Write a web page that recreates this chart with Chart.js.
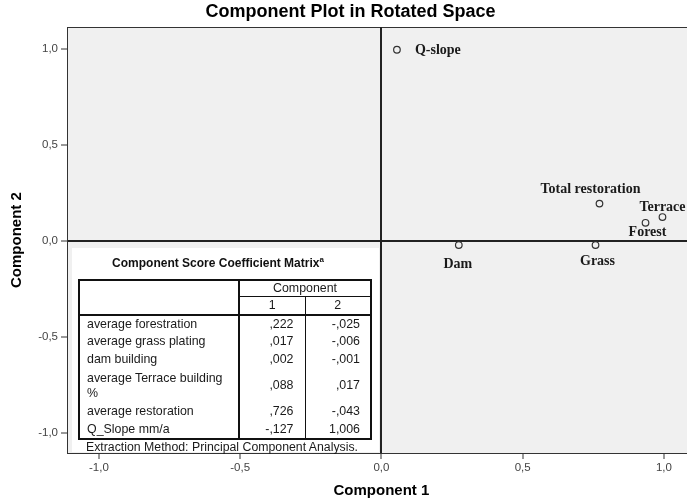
<!DOCTYPE html>
<html>
<head>
<meta charset="utf-8">
<title>Component Plot in Rotated Space</title>
<script src="https://cdn.jsdelivr.net/npm/chart.js@4.4.0/dist/chart.umd.min.js"></script>
<style>
  html, body { margin: 0; padding: 0; overflow: hidden; background: #fff; }
  #wrap { position: relative; width: 701px; height: 504px; }
  #plot { position: absolute; left: 0; top: 0; }

  /* coefficient matrix laid over the lower-left quadrant */
  .inset {
    position: absolute; left: 72px; top: 248px; width: 307px; height: 204px;
    background: #fff; color: #1a1a1a;
    font-family: "Liberation Sans", Arial, sans-serif; font-size: 12.4px;
  }
  .inset-title {
    position: absolute; left: 0; top: 8px; width: 292px; text-align: center;
    font-weight: bold; font-size: 12px; line-height: 14px; color: #111;
  }
  .inset-title sup { font-size: 8px; vertical-align: 5px; line-height: 0; }
  .inset table {
    position: absolute; left: 6px; top: 31px; width: 294px;
    border-collapse: collapse; table-layout: fixed; border: 2px solid #111;
  }
  .inset td { padding: 0; line-height: 15px; white-space: normal; }
  .inset tr.hdr1 { height: 16px; }
  .inset tr.hdr2 { height: 18px; }
  .inset tr.hdr2 td { border-bottom: 2px solid #111; }
  .inset tr.row { height: 18px; }
  .inset tr.row.tall { height: 34px; }
  .inset .lab { padding-left: 7px; padding-right: 14px; }
  .inset .c1 { text-align: right; padding-right: 11px; border-left: 2px solid #111; }
  .inset .c2 { text-align: right; padding-right: 10px; border-left: 1px solid #111; }
  .inset .mid { text-align: center; padding: 0; }
  .inset .note {
    position: absolute; left: 14px; top: 193px; font-size: 12.3px; line-height: 12px; white-space: nowrap;
  }
</style>
</head>
<body>
<div id="wrap">
  <canvas id="plot" width="701" height="504"></canvas>
  <div class="inset">
    <div class="inset-title">Component Score Coefficient Matrix<sup>a</sup></div>
    <table id="scores">
      <colgroup><col style="width:160px"><col style="width:66px"><col style="width:66px"></colgroup>
    </table>
    <div class="note">Extraction Method: Principal Component Analysis.</div>
  </div>
</div>
<script>
// rotated loadings of each variable
const variables = ["Q-slope", "Total restoration", "Terrace", "Forest", "Dam", "Grass"];
const component1 = [0.055, 0.772, 0.995, 0.935, 0.274, 0.758];
const component2 = [0.997, 0.195, 0.125, 0.095, -0.021, -0.021];
const tickValues = [-1, -0.5, 0, 0.5, 1];

// score coefficient matrix
const scoreRows = ["average forestration", "average grass plating", "dam building",
  "average Terrace building %", "average restoration", "Q_Slope mm/a"];
const scoreComp1 = [0.222, 0.017, 0.002, 0.088, 0.726, -0.127];
const scoreComp2 = [-0.025, -0.006, -0.001, 0.017, -0.043, 1.006];

// label placement relative to each point: dx, dy, align
const labelOffsets = [[18, 1, "left"], [-9, -14, "center"], [0, -10, "center"],
  [2, 10, "center"], [-1, 19, "center"], [2, 16, "center"]];

// SPSS style decimals: comma separator, no leading zero
const spssNum = (v) => {
  let s = Math.abs(v).toFixed(3).replace(".", ",");
  if (s.startsWith("0")) s = s.slice(1);
  return (v < 0 ? "-" : "") + s;
};
const axisNum = (v) => (Math.abs(v) < 1e-9 ? 0 : v).toFixed(1).replace(".", ",");

const buildTable = () => {
  const table = document.querySelector("#scores");
  const head = `
    <tr class="hdr1"><td class="lab" rowspan="2" style="border-bottom:2px solid #111"></td>
      <td class="mid" colspan="2" style="border-left:2px solid #111;border-bottom:1px solid #111">Component</td></tr>
    <tr class="hdr2"><td class="mid" style="border-left:2px solid #111">1</td>
      <td class="mid" style="border-left:1px solid #111">2</td></tr>`;
  const body = scoreRows.map((name, i) => `
    <tr class="row${name.length > 24 ? " tall" : ""}"><td class="lab">${name}</td>
      <td class="c1">${spssNum(scoreComp1[i])}</td>
      <td class="c2">${spssNum(scoreComp2[i])}</td></tr>`).join("");
  table.insertAdjacentHTML("beforeend", head + body);
};

// grey plot area and the top frame line
const plotFrame = {
  id: "plotFrame",
  beforeDraw(chart) {
    const { ctx, chartArea: a } = chart;
    ctx.save();
    ctx.fillStyle = "#f0f0f0";
    ctx.fillRect(a.left, a.top, a.right - a.left, a.bottom - a.top);
    ctx.strokeStyle = "#333";
    ctx.lineWidth = 1;
    ctx.beginPath();
    ctx.moveTo(a.left, Math.round(a.top) + 0.5);
    ctx.lineTo(a.right, Math.round(a.top) + 0.5);
    ctx.stroke();
    ctx.restore();
  }
};

// variable names next to the points
const pointLabels = {
  id: "pointLabels",
  afterDatasetsDraw(chart) {
    const { ctx } = chart;
    const meta = chart.getDatasetMeta(0);
    ctx.save();
    ctx.font = "bold 14px 'Liberation Serif', 'Times New Roman', serif";
    ctx.fillStyle = "#1a1a1a";
    ctx.textBaseline = "middle";
    meta.data.forEach((pt, i) => {
      const [dx, dy, align] = labelOffsets[i];
      ctx.textAlign = align;
      ctx.fillText(variables[i], pt.x + dx, pt.y + dy);
    });
    ctx.restore();
  }
};

document.addEventListener("DOMContentLoaded", () => {
  buildTable();

  Chart.defaults.font.family = "'Liberation Sans', Arial, sans-serif";
  const zeroLine = (c) => (c.tick && Math.abs(c.tick.value) < 1e-9 ? "#222" : "rgba(0,0,0,0)");
  const tickFont = { size: 11.5 };

  new Chart(document.querySelector("#plot"), {
    type: "scatter",
    data: {
      datasets: [{
        data: variables.map((_, i) => ({ x: component1[i], y: component2[i] })),
        pointRadius: 3.3,
        pointBorderWidth: 1.2,
        pointBorderColor: "#333",
        pointBackgroundColor: "rgba(0,0,0,0)",
        showLine: false
      }]
    },
    options: {
      responsive: false,
      animation: false,
      devicePixelRatio: 1,
      layout: { padding: 0 },
      plugins: {
        legend: { display: false },
        tooltip: { enabled: false },
        title: {
          display: true,
          text: "Component Plot in Rotated Space",
          color: "#000",
          font: { size: 18, weight: "bold" },
          padding: { top: 1, bottom: 4.5 }
        }
      },
      scales: {
        x: {
          type: "linear",
          min: -1.113,
          max: 1.113,
          afterBuildTicks: (s) => { s.ticks = tickValues.map((v) => ({ value: v })); },
          afterFit: (s) => { s.height = 51; },
          grid: { color: zeroLine, lineWidth: 2, tickColor: "#333", tickWidth: 1, tickLength: 6 },
          border: { display: true, color: "#333", width: 1 },
          ticks: { callback: axisNum, color: "#444", font: tickFont, padding: 2, maxRotation: 0 },
          title: {
            display: true, text: "Component 1", color: "#000",
            font: { size: 15, weight: "bold" }, padding: { top: 0, bottom: 4 }
          }
        },
        y: {
          type: "linear",
          min: -1.105,
          max: 1.115,
          afterBuildTicks: (s) => { s.ticks = tickValues.map((v) => ({ value: v })); },
          afterFit: (s) => { s.width = 67; },
          grid: { color: zeroLine, lineWidth: 2, tickColor: "#333", tickWidth: 1, tickLength: 6 },
          border: { display: true, color: "#333", width: 1 },
          ticks: { callback: axisNum, color: "#444", font: tickFont, padding: 3 },
          title: {
            display: true, text: "Component 2", color: "#000",
            font: { size: 15, weight: "bold" }, padding: { top: 8, bottom: 0 }
          }
        }
      }
    },
    plugins: [plotFrame, pointLabels]
  });
});
</script>
</body>
</html>
